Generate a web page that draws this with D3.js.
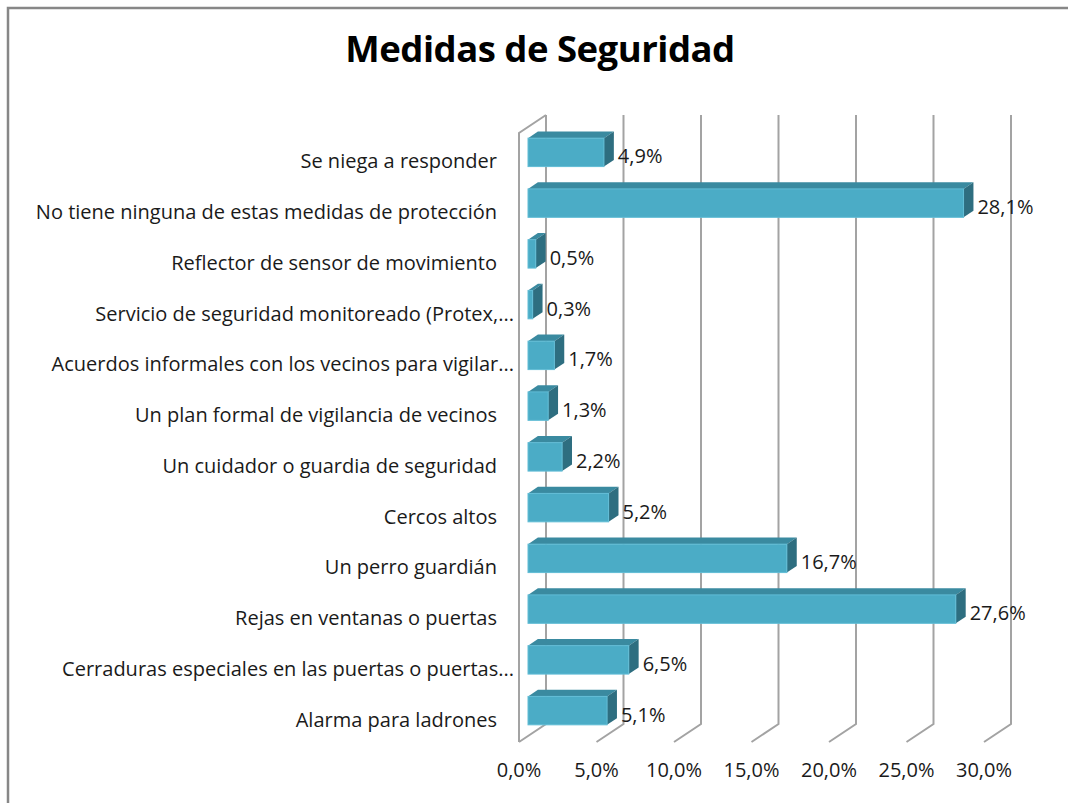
<!DOCTYPE html>
<meta charset='utf-8'>
<body style='margin:0;background:#fff'>
<script src='https://d3js.org/d3.v7.min.js'></script>
<script>
  // data, top to bottom as shown
  const categories = [
    'Se niega a responder',
    'No tiene ninguna de estas medidas de protección',
    'Reflector de sensor de movimiento',
    'Servicio de seguridad monitoreado (Protex,...',
    'Acuerdos informales con los vecinos para vigilar...',
    'Un plan formal de vigilancia de vecinos',
    'Un cuidador o guardia de seguridad',
    'Cercos altos',
    'Un perro guardián',
    'Rejas en ventanas o puertas',
    'Cerraduras especiales en las puertas o puertas...',
    'Alarma para ladrones'
  ];
  const values = [4.9, 28.1, 0.5, 0.3, 1.7, 1.3, 2.2, 5.2, 16.7, 27.6, 6.5, 5.1];
  const ticks = [0, 5, 10, 15, 20, 25, 30];
  const title = 'Medidas de Seguridad';

  const width = 1068;
  const height = 803;
  const font = '"Open Sans", Lato, sans-serif';

  // front plane of the 3d box, plus depth offset
  const plot = { left: 519, right: 984, top: 133, bottom: 742 };
  const depth = { dx: 27, dy: -18 };
  const z0 = 1 / 3, z1 = 0.7;

  const locale = d3.formatLocale({ decimal: ',', thousands: '.', grouping: [3], currency: ['', '€'] });
  const fmt = locale.format('.1f');
  const pct = d => `${fmt(d)}%`;

  const x = d3.scaleLinear()
    .domain([0, 30])
    .range([plot.left, plot.right]);

  const y = d3.scaleBand()
    .domain(categories)
    .range([plot.top, plot.bottom])
    .paddingInner(0.44)
    .paddingOuter(0.22);

  const proj = (v, yy, z) => [x(v) + z * depth.dx, yy + z * depth.dy];

  const svg = d3.select('body').append('svg')
    .attr('width', width)
    .attr('height', height)
    .style('display', 'block');

  // outer frame
  svg.append('path')
    .attr('d', `M8,${height + 5}V8H${width + 5}`)
    .attr('fill', 'none')
    .attr('stroke', '#878787')
    .attr('stroke-width', 2.5);

  svg.append('text')
    .attr('x', 540)
    .attr('y', 62)
    .attr('text-anchor', 'middle')
    .style('font', `bold 36.5px ${font}`)
    .style('letter-spacing', '-0.5px')
    .attr('fill', '#000')
    .text(title);

  // walls and gridlines
  const grid = svg.append('g')
    .attr('fill', 'none')
    .attr('stroke', '#a3a3a3')
    .attr('stroke-width', 2);

  grid.selectAll('path.tick')
    .data(ticks)
    .join('path')
      .attr('class', 'tick')
      .attr('d', t => {
        const top = proj(t, plot.top, 1);
        const bot = proj(t, plot.bottom, 1);
        const front = proj(t, plot.bottom, 0);
        return `M${top}L${bot}L${front}`;
      });

  grid.append('path')
    .attr('d', `M${proj(0, plot.bottom, 0)}L${proj(0, plot.top, 0)}L${proj(0, plot.top, 1)}`);

  svg.append('g')
    .selectAll('text')
    .data(ticks)
    .join('text')
      .attr('x', t => x(t))
      .attr('y', 777)
      .attr('text-anchor', 'middle')
      .style('font', `20px ${font}`)
      .attr('fill', '#1a1a1a')
      .text(pct);

  // category labels
  svg.append('g')
    .selectAll('text')
    .data(categories)
    .join('text')
      .attr('x', d => d.endsWith('...') ? 514 : 497)
      .attr('y', d => y(d) + y.bandwidth() / 2 + 10)
      .attr('text-anchor', 'end')
      .style('font', `20px ${font}`)
      .attr('fill', '#1a1a1a')
      .text(d => d);

  // 3d bars
  const rows = categories.map((c, i) => ({ c, v: values[i] }));
  const h = y.bandwidth();

  const bars = svg.append('g')
    .selectAll('g')
    .data(rows)
    .join('g');

  bars.append('path')
    .attr('fill', '#3a8aa0')
    .attr('d', d => {
      const yt = y(d.c);
      return `M${proj(0, yt, z0)}L${proj(d.v, yt, z0)}L${proj(d.v, yt, z1)}L${proj(0, yt, z1)}Z`;
    });

  bars.append('path')
    .attr('fill', '#2e6e80')
    .attr('d', d => {
      const yt = y(d.c);
      return `M${proj(d.v, yt, z0)}L${proj(d.v, yt, z1)}L${proj(d.v, yt + h, z1)}L${proj(d.v, yt + h, z0)}Z`;
    });

  bars.append('rect')
    .attr('x', d => proj(0, 0, z0)[0])
    .attr('y', d => proj(0, y(d.c), z0)[1])
    .attr('width', d => x(d.v) - x(0))
    .attr('height', h)
    .attr('fill', '#4bacc6')
    .attr('stroke', '#62bdd6')
    .attr('stroke-width', 1);

  bars.append('text')
    .attr('x', d => proj(d.v, 0, z1)[0] + 4)
    .attr('y', d => proj(0, y(d.c) + h / 2, z0)[1] + 11)
    .style('font', `20px ${font}`)
    .attr('fill', '#1a1a1a')
    .text(d => pct(d.v));
</script>
